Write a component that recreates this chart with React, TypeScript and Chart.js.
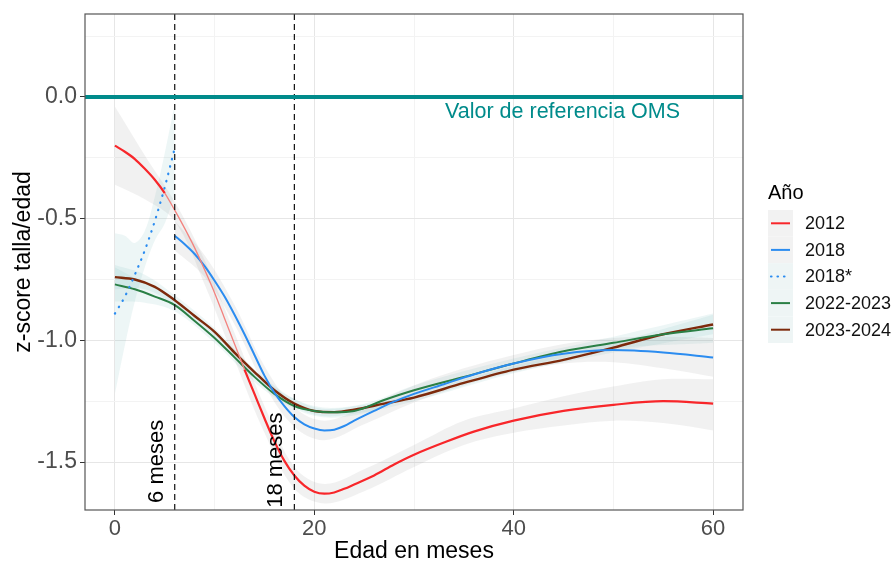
import React, { useEffect, useRef } from 'react';
import { Chart, registerables } from 'chart.js';

Chart.register(...registerables);

// ---------- data ----------
const age2012 = [0, 1, 2, 3, 4, 5, 6, 7, 8, 9, 10, 11, 12, 13, 14, 15, 16, 17, 18, 19, 20, 21, 22, 23, 24, 26, 28, 30, 33, 36, 40, 45, 50, 55, 60];
const z2012 = [-0.2, -0.225, -0.255, -0.295, -0.34, -0.395, -0.465, -0.54, -0.62, -0.71, -0.805, -0.91, -1.015, -1.12, -1.22, -1.32, -1.415, -1.495, -1.555, -1.597, -1.622, -1.63, -1.625, -1.61, -1.592, -1.555, -1.51, -1.47, -1.42, -1.375, -1.33, -1.29, -1.265, -1.25, -1.26];
const bandAge2012 = [0, 3, 6, 9, 12, 15, 18, 21, 25, 30, 35, 40, 45, 50, 55, 60];
const hi2012 = [-0.04, -0.24, -0.43, -0.67, -0.97, -1.27, -1.52, -1.59, -1.53, -1.43, -1.33, -1.28, -1.23, -1.19, -1.16, -1.16];
const lo2012 = [-0.36, -0.42, -0.51, -0.77, -1.08, -1.38, -1.61, -1.67, -1.62, -1.52, -1.43, -1.38, -1.35, -1.33, -1.34, -1.37];

const age2018 = [6, 7, 8, 9, 10, 11, 12, 13, 14, 15, 16, 17, 18, 19, 20, 21, 22, 23, 24, 26, 28, 30, 33, 36, 40, 45, 50, 55, 60];
const z2018 = [-0.57, -0.605, -0.645, -0.695, -0.755, -0.82, -0.895, -0.975, -1.06, -1.145, -1.215, -1.27, -1.315, -1.345, -1.362, -1.37, -1.367, -1.352, -1.33, -1.29, -1.252, -1.22, -1.18, -1.14, -1.095, -1.055, -1.04, -1.05, -1.07];
const bandAge2018 = [6, 9, 12, 15, 18, 21, 25, 30, 35, 40, 45, 50, 55, 60];
const hi2018 = [-0.51, -0.65, -0.855, -1.105, -1.275, -1.33, -1.275, -1.185, -1.115, -1.06, -1.015, -0.99, -0.985, -0.99];
const lo2018 = [-0.63, -0.74, -0.935, -1.185, -1.355, -1.41, -1.345, -1.255, -1.185, -1.13, -1.095, -1.09, -1.115, -1.15];

const age2018s = [0, 1, 2, 3, 4, 5, 6];
const z2018s = [-0.89, -0.82, -0.73, -0.63, -0.51, -0.37, -0.21];
const hi2018s = [-0.56, -0.57, -0.6, -0.55, -0.41, -0.23, -0.03];
const lo2018s = [-1.22, -1.02, -0.84, -0.7, -0.59, -0.52, -0.4];

const age22 = [0, 2, 4, 6, 8, 10, 12, 14, 16, 18, 20, 22, 24, 27, 30, 35, 40, 45, 50, 55, 60];
const z2022 = [-0.77, -0.79, -0.82, -0.855, -0.92, -0.99, -1.07, -1.15, -1.22, -1.27, -1.29, -1.295, -1.29, -1.245, -1.205, -1.15, -1.095, -1.045, -1.01, -0.975, -0.95];
const z2023 = [-0.74, -0.75, -0.78, -0.835, -0.9, -0.965, -1.05, -1.13, -1.205, -1.26, -1.29, -1.295, -1.285, -1.26, -1.235, -1.175, -1.12, -1.08, -1.03, -0.975, -0.935];
const bandAge22 = [0, 3, 6, 10, 15, 20, 25, 30, 40, 50, 60];
const hi2022 = [-0.7, -0.765, -0.83, -0.97, -1.165, -1.27, -1.26, -1.185, -1.075, -0.985, -0.89];
const lo2022 = [-0.84, -0.845, -0.88, -1.01, -1.205, -1.31, -1.3, -1.225, -1.115, -1.035, -1.01];
const hi2023 = [-0.69, -0.73, -0.815, -0.95, -1.155, -1.275, -1.265, -1.22, -1.105, -1.01, -0.895];
const lo2023 = [-0.79, -0.79, -0.855, -0.98, -1.185, -1.305, -1.295, -1.25, -1.135, -1.05, -0.975];

const refValue = 0;
const refLabel = 'Valor de referencia OMS';
const markerAges = [6, 18];
const markerLabels = ['6 meses', '18 meses'];

const xMin = -3;
const xMax = 63;
const yMin = -1.697;
const yMax = 0.341;
const xGridValues = [0, 10, 20, 30, 40, 50, 60];
const xTickValues = [0, 20, 40, 60];
const xTickLabels = ['0', '20', '40', '60'];
const yGridValues = [0.25, 0, -0.25, -0.5, -0.75, -1, -1.25, -1.5];
const yTickValues = [0, -0.5, -1, -1.5];
const yTickLabels = ['0.0', '-0.5', '-1.0', '-1.5'];

const legendTitle = 'Año';
const legendLabels = ['2012', '2018', '2018*', '2022-2023', '2023-2024'];

// ---------- styles ----------
const FONT = '"Liberation Sans", Arial, sans-serif';
const RED = '#f8262a';
const RED_LIGHT = '#f3827e';
const BLUE = '#2b8cf0';
const GREEN = '#2a7f45';
const BROWN = '#7d2a0c';
const TEAL = '#008b8b';
const GRAY_BAND = 'rgba(140,140,140,0.12)';
const TEAL_BAND = 'rgba(110,180,180,0.12)';
const legendColors = [RED, BLUE, BLUE, GREEN, BROWN];
const legendKeyBg = ['#f2f2f2', '#f2f2f2', '#eef5f5', '#eef5f5', '#eef5f5'];

const pts = (xs: number[], ys: number[]) => xs.map((x, i) => ({ x, y: ys[i] }));

const bandPair = (xs: number[], lo: number[], hi: number[], color: string) => [
  { data: pts(xs, lo), borderWidth: 0, pointRadius: 0, fill: false, tension: 0.35, order: 10 },
  { data: pts(xs, hi), borderWidth: 0, pointRadius: 0, fill: '-1', backgroundColor: color, tension: 0.35, order: 10 },
];

const line = (xs: number[], ys: number[], color: string, width: number, extra: any = {}) => ({
  data: pts(xs, ys),
  borderColor: color,
  borderWidth: width,
  pointRadius: 0,
  fill: false,
  cubicInterpolationMode: 'monotone',
  order: 2,
  ...extra,
});

const overlayPlugin = {
  id: 'overlay',
  afterDatasetsDraw(chart: any) {
    const { ctx, chartArea, scales } = chart;
    const xs = scales.x;
    const ys = scales.y;
    ctx.save();
    ctx.fillStyle = TEAL;
    ctx.font = `21.5px ${FONT}`;
    ctx.textAlign = 'center';
    ctx.textBaseline = 'middle';
    ctx.fillText(refLabel, xs.getPixelForValue(44.9), ys.getPixelForValue(-0.062));
    ctx.fillStyle = '#000';
    ctx.font = `22px ${FONT}`;
    ctx.textAlign = 'left';
    const labX = [4.2, 16.2];
    const labY = [-1.668, -1.688];
    markerLabels.forEach((t, i) => {
      ctx.save();
      ctx.translate(xs.getPixelForValue(labX[i]), ys.getPixelForValue(labY[i]));
      ctx.rotate(-Math.PI / 2);
      ctx.fillText(t, 0, 0);
      ctx.restore();
    });
    ctx.strokeStyle = '#555';
    ctx.lineWidth = 1.2;
    ctx.strokeRect(chartArea.left, chartArea.top, chartArea.right - chartArea.left, chartArea.bottom - chartArea.top);
    ctx.restore();
  },
  afterDraw(chart: any) {
    const { ctx } = chart;
    ctx.save();
    ctx.fillStyle = '#000';
    ctx.font = `20px ${FONT}`;
    ctx.textAlign = 'left';
    ctx.textBaseline = 'middle';
    ctx.fillText(legendTitle, 768, 193);
    const keyX = 768;
    const keyW = 25;
    const keyH = 26.6;
    const top0 = 210;
    ctx.font = `18px ${FONT}`;
    legendLabels.forEach((lab, i) => {
      const y0 = top0 + i * keyH;
      const cy = y0 + keyH / 2;
      ctx.fillStyle = legendKeyBg[i];
      ctx.fillRect(keyX, y0, keyW, keyH);
      ctx.strokeStyle = legendColors[i];
      ctx.lineWidth = 2;
      if (i === 2) {
        ctx.setLineDash([0.5, 6]);
        ctx.lineCap = 'round';
        ctx.lineWidth = 2.2;
      } else {
        ctx.setLineDash([]);
        ctx.lineCap = 'butt';
      }
      ctx.beginPath();
      ctx.moveTo(keyX + 3, cy);
      ctx.lineTo(keyX + keyW - 3, cy);
      ctx.stroke();
      ctx.setLineDash([]);
      ctx.fillStyle = '#111';
      ctx.fillText(lab, 805, cy + 1);
    });
    ctx.restore();
  },
};

export default function App() {
  const ref = useRef<HTMLCanvasElement | null>(null);

  useEffect(() => {
    if (!ref.current) return;
    const inThin = (c: any) => c.p0.parsed.x >= 5 && c.p1.parsed.x <= 13;

    const datasets: any[] = [
      {
        data: [{ x: xMin, y: refValue }, { x: xMax, y: refValue }],
        borderColor: TEAL,
        borderWidth: 4,
        pointRadius: 0,
        fill: false,
        order: 0,
      },
      ...markerAges.map((a) => ({
        data: [{ x: a, y: yMin }, { x: a, y: yMax }],
        borderColor: '#111',
        borderWidth: 1.2,
        borderDash: [6, 4],
        pointRadius: 0,
        fill: false,
        order: 1,
      })),
      line(age2012, z2012, RED, 2.2, {
        segment: {
          borderColor: (c: any) => (inThin(c) ? RED_LIGHT : undefined),
          borderWidth: (c: any) => (inThin(c) ? 1.3 : undefined),
        },
      }),
      line(age2018, z2018, BLUE, 2),
      line(age2018s, z2018s, BLUE, 2.2, { borderDash: [0.5, 7], borderCapStyle: 'round' }),
      line(age22, z2022, GREEN, 2),
      line(age22, z2023, BROWN, 2.4),
      ...bandPair(bandAge2012, lo2012, hi2012, GRAY_BAND),
      ...bandPair(bandAge2018, lo2018, hi2018, GRAY_BAND),
      ...bandPair(age2018s, lo2018s, hi2018s, TEAL_BAND),
      ...bandPair(bandAge22, lo2022, hi2022, TEAL_BAND),
      ...bandPair(bandAge22, lo2023, hi2023, TEAL_BAND),
    ];

    const near = (a: number, b: number) => Math.abs(a - b) < 1e-6;

    const chart = new Chart(ref.current, {
      type: 'line',
      data: { datasets },
      options: {
        responsive: false,
        animation: false,
        events: [],
        layout: { padding: { left: 0, right: 150, top: 14, bottom: 0 } },
        plugins: { legend: { display: false }, tooltip: { enabled: false } },
        scales: {
          x: {
            type: 'linear',
            min: xMin,
            max: xMax,
            afterBuildTicks: (s: any) => {
              s.ticks = xGridValues.map((v) => ({ value: v }));
            },
            afterFit: (s: any) => {
              s.height = 53;
              s.paddingLeft = 0;
              s.paddingRight = 0;
            },
            ticks: {
              autoSkip: false,
              maxRotation: 0,
              padding: 1,
              color: '#4d4d4d',
              font: { size: 22, family: FONT },
              callback: (v: any) => {
                const i = xTickValues.findIndex((t) => near(t, Number(v)));
                return i >= 0 ? xTickLabels[i] : '';
              },
            },
            grid: {
              color: (c: any) => (xTickValues.some((t) => near(t, c.tick?.value)) ? '#e6e6e6' : '#f3f3f3'),
              tickColor: (c: any) => (xTickValues.some((t) => near(t, c.tick?.value)) ? '#333' : 'rgba(0,0,0,0)'),
              tickLength: 5,
              lineWidth: 1,
            },
            border: { display: false },
            title: {
              display: true,
              text: 'Edad en meses',
              color: '#000',
              font: { size: 23, family: FONT, lineHeight: 1 },
              padding: { top: 0, bottom: 0 },
            },
          },
          y: {
            type: 'linear',
            min: yMin,
            max: yMax,
            afterBuildTicks: (s: any) => {
              s.ticks = yGridValues.map((v) => ({ value: v }));
            },
            afterFit: (s: any) => {
              s.width = 85;
              s.paddingTop = 0;
              s.paddingBottom = 0;
            },
            ticks: {
              autoSkip: false,
              padding: 3,
              color: '#4d4d4d',
              font: { size: 23, family: FONT },
              callback: (v: any) => {
                const i = yTickValues.findIndex((t) => near(t, Number(v)));
                return i >= 0 ? yTickLabels[i] : '';
              },
            },
            grid: {
              color: (c: any) => (yTickValues.some((t) => near(t, c.tick?.value)) ? '#e6e6e6' : '#f3f3f3'),
              tickColor: (c: any) => (yTickValues.some((t) => near(t, c.tick?.value)) ? '#333' : 'rgba(0,0,0,0)'),
              tickLength: 5,
              lineWidth: 1,
            },
            border: { display: false },
            title: {
              display: true,
              text: 'z-score talla/edad',
              color: '#000',
              font: { size: 23, family: FONT },
              padding: { top: 10, bottom: 0 },
            },
          },
        },
      } as any,
      plugins: [overlayPlugin],
    });

    return () => chart.destroy();
  }, []);

  return (
    <div style={{ position: 'absolute', left: 0, top: 0, width: 893, height: 563, background: '#fff' }}>
      <canvas ref={ref} width={893} height={563} style={{ display: 'block', width: 893, height: 563 }} />
    </div>
  );
}
